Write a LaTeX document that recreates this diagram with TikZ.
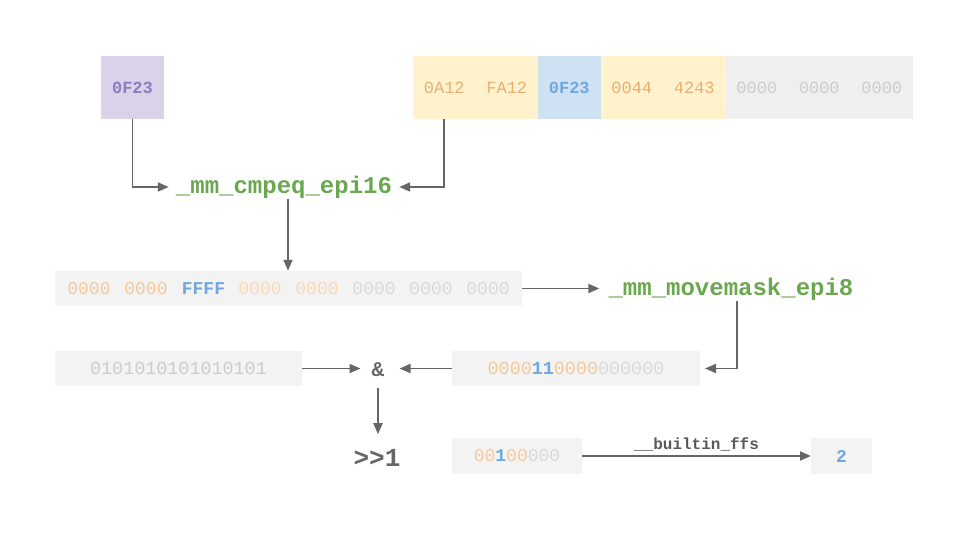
\documentclass[tikz,border=0pt]{standalone}
\usepackage{fontspec}
\setmonofont{Liberation Mono}
\usetikzlibrary{arrows.meta}
\definecolor{pfill}{HTML}{D9D2E9}
\definecolor{ptext}{HTML}{8E7CC3}
\definecolor{yfill}{HTML}{FFF2CC}
\definecolor{otext}{HTML}{E8AE74}
\definecolor{olight}{HTML}{F5C89C}
\definecolor{olighter}{HTML}{F9D8B6}
\definecolor{bfill}{HTML}{CFE2F3}
\definecolor{btext}{HTML}{6FA8DC}
\definecolor{gfill}{HTML}{EFEFEF}
\definecolor{gfill2}{HTML}{F3F3F3}
\definecolor{gtext}{HTML}{CCCCCC}
\definecolor{gtextl}{HTML}{D9D9D9}
\definecolor{green}{HTML}{6AA84F}
\definecolor{arrowc}{HTML}{666666}
\definecolor{labc}{HTML}{595959}
\tikzset{
  cell/.style={minimum width=62.5pt, minimum height=63pt, inner sep=0pt, outer sep=0pt, font=\ttfamily\fontsize{17}{20}\selectfont},
  strip/.style={fill=gfill2, minimum height=35.5pt, inner sep=0pt, outer sep=0pt, font=\ttfamily\fontsize{18.4}{22}\selectfont},
  txt/.style={inner sep=0pt, font=\ttfamily\fontsize{18}{22}\selectfont},
  func/.style={inner sep=1pt, text=green, font=\ttfamily\bfseries\fontsize{24}{28}\selectfont},
  op/.style={inner sep=1pt, text=arrowc, font=\ttfamily\bfseries\fontsize{24}{28}\selectfont},
  arr/.style={draw=arrowc, line width=1.9pt, -{Triangle[length=11pt,width=9pt]}}
}
\begin{document}
\begin{tikzpicture}[x=1pt,y=-1pt]
\useasboundingbox (0,0) rectangle (960,540);
% top-left purple cell
\node[cell, fill=pfill, text=ptext, font=\ttfamily\bfseries\fontsize{17}{20}\selectfont] (p) at (132.5,87.5) {0F23};
% top row cells
\node[cell, fill=yfill, text=otext] (c1) at (444.25,87.5) {0A12};
\node[cell, fill=yfill, text=otext] (c2) at (506.75,87.5) {FA12};
\node[cell, fill=bfill, text=btext, font=\ttfamily\bfseries\fontsize{17}{20}\selectfont] (c3) at (569.25,87.5) {0F23};
\node[cell, fill=yfill, text=otext] (c4) at (631.75,87.5) {0044};
\node[cell, fill=yfill, text=otext] (c5) at (694.25,87.5) {4243};
\node[cell, fill=gfill, text=gtext] (c6) at (756.75,87.5) {0000};
\node[cell, fill=gfill, text=gtext] (c7) at (819.25,87.5) {0000};
\node[cell, fill=gfill, text=gtext] (c8) at (881.75,87.5) {0000};
% cmpeq
\node[func] (cmp) at (284,187) {\_mm\_cmpeq\_epi16};
% row 2
\node[strip, minimum width=467pt] (r2) at (288.5,288.5) {};
\node[txt, text=olight] (t1) at (89,289) {0000};
\node[txt, text=olight] (t2) at (146,289) {0000};
\node[txt, text=btext, font=\ttfamily\bfseries\fontsize{18}{22}\selectfont] (t3) at (203.5,289) {FFFF};
\node[txt, text=olighter] (t4) at (260,289) {0000};
\node[txt, text=olighter] (t5) at (317,289) {0000};
\node[txt, text=gtextl] (t6) at (374,289) {0000};
\node[txt, text=gtextl] (t7) at (431,289) {0000};
\node[txt, text=gtextl] (t8) at (488,289) {0000};
% movemask
\node[func] (mm) at (731,289) {\_mm\_movemask\_epi8};
% row 3
\node[strip, minimum width=248pt] (r3) at (576,368.5) {\textcolor{olight}{0000}\textcolor{btext}{\bfseries 11}\textcolor{olight}{0000}\textcolor{gtextl}{000000}};
\node[strip, minimum width=247pt, text=gtext] (r4) at (178.5,368.5) {0101010101010101};
\node[op, font=\ttfamily\bfseries\fontsize{21}{24}\selectfont] (and) at (378,370) {\&};
\node[op, font=\ttfamily\bfseries\fontsize{26}{30}\selectfont] (shr) at (377,458) {>{}>1};
% row 4
\node[strip, minimum width=130pt, font=\ttfamily\fontsize{18}{22}\selectfont] (r5) at (517,456) {\textcolor{olight}{00}\textcolor{btext}{\bfseries 1}\textcolor{olight}{00}\textcolor{gtextl}{000}};
\node[strip, minimum width=61pt, text=btext, font=\ttfamily\bfseries\fontsize{18}{22}\selectfont] (two) at (841.5,456) {2};
% arrows
\draw[arr] (p.south) |- ([xshift=-6pt]cmp.west);
\draw[arr] (c1.south) |- ([xshift=6pt]cmp.east);
\draw[arr] ([xshift=4pt]cmp.south) -- ([xshift=4pt]cmp.south |- r2.north);
\draw[arr] (r2.east) -- ([xshift=-8pt]r2.east -| mm.west);
\draw[arr] ([xshift=6pt]mm.south) |- ([xshift=5pt]r3.east);
\draw[arr] (r3.west) -- ([xshift=14pt]r3.west -| and.east);
\draw[arr] (r4.east) -- ([xshift=-10pt]r4.east -| and.west);
\draw[arr] ([yshift=-10pt]and.south) -- ([yshift=14pt]and.south |- shr.north);
\draw[arr] (r5.east) -- node[above=4pt, inner sep=0pt, text=labc, font=\ttfamily\bfseries\fontsize{16}{18}\selectfont] (ffs) {\_\_builtin\_ffs} (two.west);
\end{tikzpicture}
\end{document}
